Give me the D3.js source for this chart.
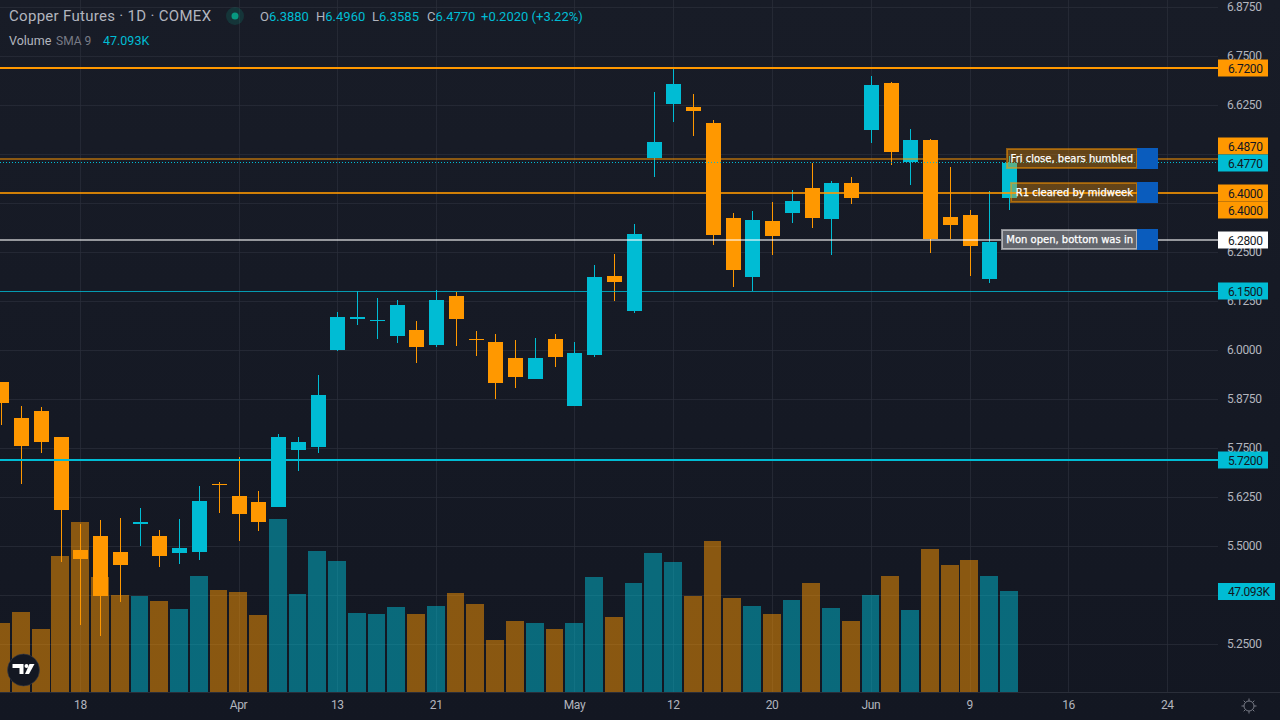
<!DOCTYPE html>
<html>
<head>
<meta charset="utf-8">
<title>Copper Futures 1D</title>
<script src="https://cdn.jsdelivr.net/npm/d3@7/dist/d3.min.js"></script>
<style>
  html, body { margin: 0; padding: 0; background: #131722; overflow: hidden; }
  svg { display: block; }
  text { font-family: Roboto, sans-serif; }
  .axis-text { font-size: 12px; letter-spacing: -0.4px; fill: #b2b5be; }
</style>
</head>
<body>
<svg id="chart" width="1280" height="720"></svg>
<script>
// Daily candles, oldest first
const opens  = [5.919,5.827,5.845,5.779,5.4905,5.526,5.485,5.557,5.526,5.483,5.485,5.659,5.628,5.613,5.600,5.7455,5.753,6.0006,6.080,6.0745,6.036,6.052,6.0135,6.138,6.0285,6.021,5.980,5.927,6.0285,5.858,5.988,6.1895,6.100,6.490,6.628,6.6205,6.580,6.337,6.187,6.330,6.350,6.414,6.335,6.427,6.562,6.682,6.480,6.536,6.340,6.345,6.182,6.388];
const highs  = [5.919,5.858,5.855,5.779,5.557,5.567,5.572,5.5975,5.5415,5.5695,5.654,5.664,5.728,5.641,5.786,5.779,5.937,6.0976,6.151,6.133,6.128,6.0745,6.154,6.1485,6.049,6.0415,6.026,6.031,6.0415,6.021,6.2175,6.2455,6.322,6.659,6.7175,6.654,6.5875,6.350,6.355,6.378,6.409,6.478,6.432,6.442,6.6995,6.684,6.5645,6.539,6.4675,6.358,6.406,6.496];
const lows   = [5.809,5.659,5.738,5.460,5.299,5.271,5.358,5.501,5.447,5.455,5.465,5.585,5.513,5.539,5.600,5.692,5.738,5.998,6.0645,6.0285,6.0185,5.9675,6.008,6.011,5.985,5.8755,5.9035,5.927,5.957,5.858,5.983,6.1255,6.095,6.442,6.582,6.5465,6.2685,6.161,6.151,6.243,6.325,6.312,6.243,6.373,6.529,6.4725,6.422,6.248,6.284,6.1895,6.1715,6.3585];
const closes = [5.866,5.756,5.766,5.5925,5.4675,5.373,5.452,5.562,5.475,5.4955,5.6155,5.655,5.582,5.562,5.779,5.766,5.886,6.085,6.085,6.077,6.1155,6.008,6.128,6.080,6.026,5.9165,5.932,5.980,5.983,5.993,6.187,6.174,6.2965,6.531,6.679,6.610,6.294,6.205,6.332,6.2915,6.381,6.337,6.427,6.388,6.677,6.506,6.536,6.284,6.3195,6.266,6.276,6.477];
// Traded volume in thousands of contracts
const volumes = [32.2,37.3,29.4,63.4,79.3,53.6,45.2,44.8,42.4,38.7,54.1,47.6,46.6,35.9,80.7,45.7,65.7,61.1,36.8,36.4,39.6,36.4,40.1,46.2,41.0,24.2,33.1,32.2,29.4,32.2,53.6,35.0,50.8,64.8,60.6,44.8,70.4,43.8,40.1,36.4,42.9,50.8,39.2,33.1,45.2,54.1,38.2,66.7,59.2,61.6,54.1,47.093];

const gridTicks = [6.875,6.75,6.625,6.5,6.375,6.25,6.125,6,5.875,5.75,5.625,5.5,5.375,5.25];
const priceTicks = [6.875,6.75,6.625,6.25,6.125,6,5.875,5.75,5.625,5.5,5.25];
const dateTickBars = [4,12,17,22,29,34,39,44,49,54,59];
const dateTickLabels = ["18","Apr","13","21","May","12","20","Jun","9","16","24"];

// Horizontal levels drawn across the pane
const levelPrices = [6.72,6.487,6.4,6.28,6.15,5.72];
const levelColors = ["#ff9800","#ff9800","#ff9800","#ffffff","#00bcd4","#00bcd4"];
const levelAlphas = [1,0.5,0.8,0.55,0.8,1];
const levelWidths = [2,2,2,2,1,2];

// Annotated levels with their text tags
const notePrices = [6.487,6.4,6.28];
const noteTexts = ["Fri close, bears humbled","R1 cleared by midweek","Mon open, bottom was in"];
const noteColors = ["#ff9800","#ff9800","#ffffff"];

// Price tags on the right-hand scale
const tagPrices = [6.72,6.487,6.477,6.4,6.4,6.28,6.15,5.72];
const tagShifts = [0,-13,0,0,17,0,0,0];
const tagFills = ["#ff9800","#ff9800","#00bcd4","#ff9800","#ff9800","#ffffff","#00bcd4","#00bcd4"];
const tagLabels = tagPrices.map(d => d3.format(".4f")(d));

const UP = "#00bcd4", DOWN = "#ff9800";
const paneRight = 1218, paneBottom = 692;

const svg = d3.select("#chart");
const defs = svg.append("defs");
const bg = defs.append("linearGradient").attr("id","paneBg").attr("x1",0).attr("x2",0).attr("y1",0).attr("y2",1);
bg.append("stop").attr("offset","0%").attr("stop-color","#181c27");
bg.append("stop").attr("offset","100%").attr("stop-color","#131722");
svg.append("rect").attr("width",1280).attr("height",720).attr("fill","url(#paneBg)");

const x = d3.scaleLinear().domain([0,51]).range([1.4,1009.2]);
const y = d3.scaleLinear().domain([6.72,5.72]).range([68,460]);
const v = d3.scaleLinear().domain([0,47.093]).range([paneBottom,591]);
const crisp = p => Math.round(p) + 0.5;
const barIdx = d3.range(opens.length);
const isUp = i => closes[i] >= opens[i];

// Grid
const grid = svg.append("g");
grid.selectAll("line.h").data(gridTicks).join("line").attr("class","h")
  .attr("x1",0).attr("x2",paneRight).attr("y1",d=>crisp(y(d))).attr("y2",d=>crisp(y(d)))
  .attr("stroke","#2a2e39").attr("stroke-opacity",0.75);
grid.selectAll("line.v").data(dateTickBars).join("line").attr("class","v")
  .attr("x1",d=>Math.round(x(d))+0.5).attr("x2",d=>Math.round(x(d))+0.5).attr("y1",0).attr("y2",paneBottom)
  .attr("stroke","#2a2e39").attr("stroke-opacity",0.75);

// Volume columns
svg.append("g").selectAll("rect").data(barIdx).join("rect")
  .attr("x",i=>Math.max(0,Math.round(x(i)-9.2)))
  .attr("width",i=>Math.round(x(i)+9.6)-1-Math.max(0,Math.round(x(i)-9.2)))
  .attr("y",i=>Math.round(v(volumes[i])))
  .attr("height",i=>paneBottom-Math.round(v(volumes[i])))
  .attr("fill",i=>isUp(i)?UP:DOWN).attr("fill-opacity",0.5);

// Candles
const candles = svg.append("g");
candles.selectAll("line").data(barIdx).join("line")
  .attr("x1",i=>Math.round(x(i))+0.5).attr("x2",i=>Math.round(x(i))+0.5)
  .attr("y1",i=>Math.round(y(highs[i]))).attr("y2",i=>Math.round(y(lows[i])))
  .attr("stroke",i=>isUp(i)?UP:DOWN);
candles.selectAll("rect").data(barIdx).join("rect")
  .attr("x",i=>Math.round(x(i))-7).attr("width",15)
  .attr("y",i=>Math.round(y(Math.max(opens[i],closes[i]))))
  .attr("height",i=>Math.max(1,Math.round(y(Math.min(opens[i],closes[i])))-Math.round(y(Math.max(opens[i],closes[i])))))
  .attr("fill",i=>isUp(i)?UP:DOWN);

// Level lines, broken where a tag box sits on them
const noteLeft = [1006,1010,1001], noteMid = 1137, noteEnd = 1158;
levelPrices.forEach((p,k)=>{
  const n = notePrices.indexOf(p);
  const spans = n < 0 ? [[0,paneRight]] : (p === 6.4 ? [[0,noteMid],[noteEnd,paneRight]] : [[0,noteLeft[n]],[noteEnd,paneRight]]);
  spans.forEach(s=>{
    svg.append("line").attr("x1",s[0]).attr("x2",s[1])
      .attr("y1",Math.round(y(p))+(levelWidths[k]===1?0.5:0)).attr("y2",Math.round(y(p))+(levelWidths[k]===1?0.5:0))
      .attr("stroke",levelColors[k]).attr("stroke-opacity",levelAlphas[k]).attr("stroke-width",levelWidths[k]);
  });
});
// Last-price dotted line
svg.append("line").attr("x1",0).attr("x2",paneRight)
  .attr("y1",Math.round(y(closes[51]))-0.5).attr("y2",Math.round(y(closes[51]))-0.5)
  .attr("stroke",UP).attr("stroke-dasharray","1 2");

// Note boxes
notePrices.forEach((p,n)=>{
  const top = Math.round(y(p))-11;
  svg.append("rect").attr("x",noteLeft[n]+1).attr("y",top+1).attr("width",noteMid-noteLeft[n]-1).attr("height",19)
    .attr("fill",noteColors[n]).attr("fill-opacity",0.33)
    .attr("stroke",noteColors[n]).attr("stroke-opacity",0.5).attr("stroke-width",2);
  svg.append("rect").attr("x",noteMid).attr("y",top).attr("width",noteEnd-noteMid).attr("height",21)
    .attr("fill","#0a5cbd");
  svg.append("text").attr("x",1133).attr("y",top+14).attr("text-anchor","end")
    .attr("fill","#ffffff").attr("stroke","#ffffff").attr("stroke-width",0.25).attr("font-size",10)
    .style("font-family","'DejaVu Sans', sans-serif")
    .text(noteTexts[n]);
});

// Price scale
const priceAxis = d3.axisRight(y).tickValues(priceTicks).tickFormat(d3.format(".4f")).tickSize(0).tickPadding(0);
const gPrice = svg.append("g").attr("transform",`translate(${paneRight},-1)`).call(priceAxis);
gPrice.select(".domain").remove();
gPrice.selectAll("text").attr("class","axis-text").attr("x",9).attr("dy","0.35em");

// Time scale
const timeAxis = d3.axisBottom(x).tickValues(dateTickBars)
  .tickFormat(d=>dateTickLabels[dateTickBars.indexOf(d)]).tickSize(0).tickPadding(0);
const gTime = svg.append("g").attr("transform",`translate(-0.5,${paneBottom})`).call(timeAxis);
gTime.select(".domain").remove();
gTime.selectAll("text").attr("class","axis-text").attr("y",13).attr("dy","0.35em");
svg.append("line").attr("x1",0).attr("x2",1280).attr("y1",paneBottom+0.5).attr("y2",paneBottom+0.5).attr("stroke","#2a2e39");

// Price tags
const tags = svg.append("g").selectAll("g").data(tagPrices).join("g")
  .attr("transform",(d,i)=>`translate(${paneRight},${Math.round(y(d))+tagShifts[i]-8.5})`);
tags.append("rect").attr("width",50).attr("height",17).attr("fill",(d,i)=>tagFills[i]);
tags.append("text").attr("x",10).attr("y",13).attr("fill","#131722")
  .attr("font-size",12).style("letter-spacing","-0.4px").text((d,i)=>tagLabels[i]);

// Volume tag
const vTag = svg.append("g").attr("transform",`translate(${paneRight},${Math.round(v(volumes[51]))-8})`);
vTag.append("rect").attr("width",57).attr("height",17).attr("fill",UP);
vTag.append("text").attr("x",10).attr("y",13).attr("fill","#131722").attr("font-size",12).style("letter-spacing","-0.4px")
  .text(d3.format(".3f")(volumes[51])+"K");

// Header legend
const legend = svg.append("g");
legend.append("text").attr("x",9).attr("y",21).attr("font-size",15).style("letter-spacing","0.3px").attr("fill","#b2b5be").text("Copper Futures · 1D · COMEX");
legend.append("circle").attr("cx",235).attr("cy",16).attr("r",9).attr("fill","#089981").attr("fill-opacity",0.2);
legend.append("circle").attr("cx",235).attr("cy",16).attr("r",3.5).attr("fill","#089981");
const fmt = d3.format(".4f");
const ohlc = [["O",opens[51],260],["H",highs[51],316],["L",lows[51],372],["C",closes[51],427]];
ohlc.forEach(d=>{
  const t = legend.append("text").attr("x",d[2]).attr("y",21).attr("font-size",13);
  t.append("tspan").attr("fill","#b2b5be").text(d[0]);
  t.append("tspan").attr("fill",UP).text(fmt(d[1]));
});
legend.append("text").attr("x",481).attr("y",21).attr("font-size",13).attr("fill",UP).text("+0.2020 (+3.22%)");
legend.append("text").attr("x",9).attr("y",45).attr("font-size",12.5).attr("fill","#b2b5be").text("Volume");
legend.append("text").attr("x",56).attr("y",45).attr("font-size",12).attr("fill","#787b86").text("SMA 9");
legend.append("text").attr("x",103).attr("y",45).attr("font-size",12.5).attr("fill",UP).text(d3.format(".3f")(volumes[51])+"K");

// Brand badge
const badge = svg.append("g").attr("transform","translate(23.5,670)");
badge.append("circle").attr("r",16).attr("fill","#131722").attr("stroke","#3a3e49").attr("stroke-opacity",0.6);
badge.append("path").attr("fill","#ffffff").attr("d","M-11-6H0V4H-4V-2H-11Z");
badge.append("circle").attr("cx",3).attr("cy",-4).attr("r",2).attr("fill","#ffffff");
badge.append("path").attr("fill","#ffffff").attr("d","M6-6H11L5.5 4H1.5Z");

// Settings gear
const gear = svg.append("g").attr("transform","translate(1249,706)").attr("stroke","#787b86").attr("fill","none");
gear.append("circle").attr("r",5);
gear.selectAll("line").data(d3.range(8)).join("line")
  .attr("x1",d=>5*Math.cos(d*Math.PI/4)).attr("y1",d=>5*Math.sin(d*Math.PI/4))
  .attr("x2",d=>7.5*Math.cos(d*Math.PI/4)).attr("y2",d=>7.5*Math.sin(d*Math.PI/4));
</script>
</body>
</html>
